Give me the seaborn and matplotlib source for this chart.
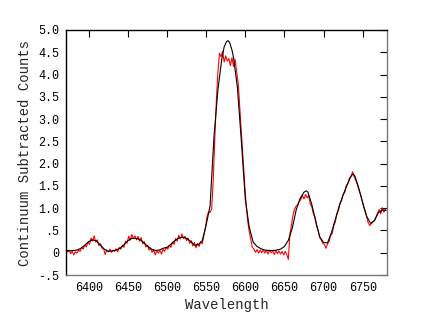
import numpy as np
import pandas as pd
import matplotlib
matplotlib.use("Agg")
import matplotlib.pyplot as plt
import seaborn as sns

# ---- data ----
model_wave = [6370, 6375, 6380, 6385, 6390, 6395, 6400, 6405, 6410, 6415,
              6420, 6425, 6430, 6435, 6440, 6445, 6450, 6455, 6460, 6465,
              6470, 6475, 6480, 6485, 6490, 6495, 6500, 6505, 6510, 6515,
              6520, 6525, 6530, 6535, 6540, 6545, 6550, 6555, 6560, 6565,
              6570, 6573, 6576, 6578, 6580, 6583, 6585, 6590, 6595, 6600,
              6605, 6610, 6615, 6620, 6625, 6630, 6635, 6640, 6645, 6650,
              6655, 6660, 6665, 6670, 6675, 6678, 6680, 6685, 6690, 6695,
              6700, 6705, 6710, 6715, 6720, 6725, 6730, 6735, 6738, 6740,
              6745, 6750, 6755, 6760, 6765, 6770, 6775, 6780]
model_flux = [0.06, 0.04, 0.05, 0.06, 0.10, 0.17, 0.25, 0.29, 0.26, 0.17,
              0.08, 0.03, 0.04, 0.06, 0.10, 0.18, 0.27, 0.32, 0.32, 0.30,
              0.23, 0.15, 0.08, 0.05, 0.06, 0.10, 0.12, 0.19, 0.27, 0.33,
              0.35, 0.32, 0.26, 0.17, 0.18, 0.27, 0.62, 1.05, 2.60, 3.65,
              4.35, 4.62, 4.74, 4.76, 4.72, 4.55, 4.38, 3.70, 2.50, 1.20,
              0.58, 0.24, 0.14, 0.09, 0.06, 0.05, 0.05, 0.06, 0.08, 0.14,
              0.28, 0.55, 0.96, 1.22, 1.36, 1.39, 1.36, 1.08, 0.70, 0.36,
              0.23, 0.22, 0.45, 0.75, 1.05, 1.30, 1.52, 1.72, 1.77, 1.72,
              1.45, 1.12, 0.82, 0.66, 0.72, 0.90, 0.96, 0.95]

obs_wave_start = 6371
obs_step = 2
obs_flux = [0.05, 0.02, 0.06, -0.02, 0.03, -0.05, 0.02, -0.01, 0.06, 0.03,
            0.12, 0.08, 0.17, 0.13, 0.24, 0.19, 0.33, 0.26, 0.38, 0.24,
            0.29, 0.16, 0.20, 0.10, 0.09, -0.04, 0.06, 0.02, 0.08, 0.01,
            0.06, 0.03, 0.09, 0.02, 0.12, 0.08, 0.17, 0.12, 0.26, 0.21,
            0.37, 0.28, 0.41, 0.32, 0.38, 0.29, 0.37, 0.26, 0.34, 0.20,
            0.25, 0.13, 0.17, 0.06, 0.11, 0.01, 0.07, -0.05, 0.05, -0.01,
            0.05, -0.03, 0.08, 0.03, 0.12, 0.08, 0.17, 0.12, 0.24, 0.19,
            0.32, 0.26, 0.39, 0.31, 0.42, 0.32, 0.37, 0.27, 0.33, 0.21,
            0.27, 0.15, 0.23, 0.11, 0.21, 0.14, 0.25, 0.20, 0.38, 0.55,
            0.80, 0.92, 0.90, 0.98, 1.60, 2.55, 3.40, 4.05, 4.48, 4.40,
            4.52, 4.28, 4.42, 4.30, 4.36, 4.20, 4.38, 4.18, 4.34, 4.05,
            3.80, 3.25, 2.70, 2.15, 1.60, 1.10, 0.72, 0.48, 0.30, 0.12,
            0.08, 0.01, 0.07, -0.01, 0.06, 0.00, 0.07, -0.01, 0.05, -0.03,
            0.06, 0.00, 0.04, -0.04, 0.05, -0.02, 0.04, -0.03, 0.03, -0.05,
            0.03, -0.04, -0.15, 0.42, 0.62, 0.85, 0.98, 1.05, 1.08, 1.15,
            1.20, 1.28, 1.21, 1.31, 1.23, 1.28, 1.10, 1.03, 0.87, 0.81,
            0.61, 0.51, 0.34, 0.29, 0.21, 0.19, 0.10, 0.20, 0.25, 0.39,
            0.43, 0.61, 0.69, 0.87, 0.95, 1.11, 1.17, 1.31, 1.35, 1.51,
            1.55, 1.67, 1.71, 1.82, 1.71, 1.63, 1.54, 1.41, 1.31, 1.19,
            1.04, 0.93, 0.81, 0.67, 0.61, 0.65, 0.69, 0.73, 0.81, 0.89,
            0.97, 0.87, 1.01, 0.91, 0.98]

x_ticks = [6400, 6450, 6500, 6550, 6600, 6650, 6700, 6750]
y_ticks = [-0.5, 0, 0.5, 1.0, 1.5, 2.0, 2.5, 3.0, 3.5, 4.0, 4.5, 5.0]
y_tick_labels = ["-.5", "0", ".5", "1.0", "1.5", "2.0", "2.5", "3.0",
                 "3.5", "4.0", "4.5", "5.0"]

model = pd.DataFrame({"wave": model_wave, "flux": model_flux})
obs = pd.DataFrame({
    "wave": obs_wave_start + obs_step * np.arange(len(obs_flux)),
    "flux": obs_flux})

sns.set_style("white")
plt.rcParams["font.family"] = ["Liberation Mono", "DejaVu Sans Mono"]

fig = plt.figure(figsize=(4.32, 3.18), dpi=100)
ax = fig.add_axes([66 / 432, 43 / 318, 321 / 432, 245 / 318])

sns.lineplot(data=obs, x="wave", y="flux", ax=ax, color="red", lw=0.8,
             estimator=None, sort=False)
sns.lineplot(data=model, x="wave", y="flux", ax=ax, color="black", lw=0.8,
             estimator=None, sort=False)

ax.set_xlim(6371, 6781)
ax.set_ylim(-0.5, 5.0)
ax.set_xticks(x_ticks)
ax.set_xticklabels([str(t) for t in x_ticks])
ax.set_yticks(y_ticks)
ax.set_yticklabels(y_tick_labels)
ax.tick_params(direction="in", length=5, width=0.8, top=True, right=True,
               labelsize=8.5, colors="black", pad=5)
ax.set_xlabel("Wavelength", fontsize=10, labelpad=3)
ax.set_ylabel("Continuum Subtracted Counts", fontsize=10, labelpad=4)
for side in ["top", "left"]:
    ax.spines[side].set_color("black")
    ax.spines[side].set_linewidth(1.0)
for side in ["bottom", "right"]:
    ax.spines[side].set_color("#777777")
    ax.spines[side].set_linewidth(1.0)

fig.savefig("out.png", dpi=100)
